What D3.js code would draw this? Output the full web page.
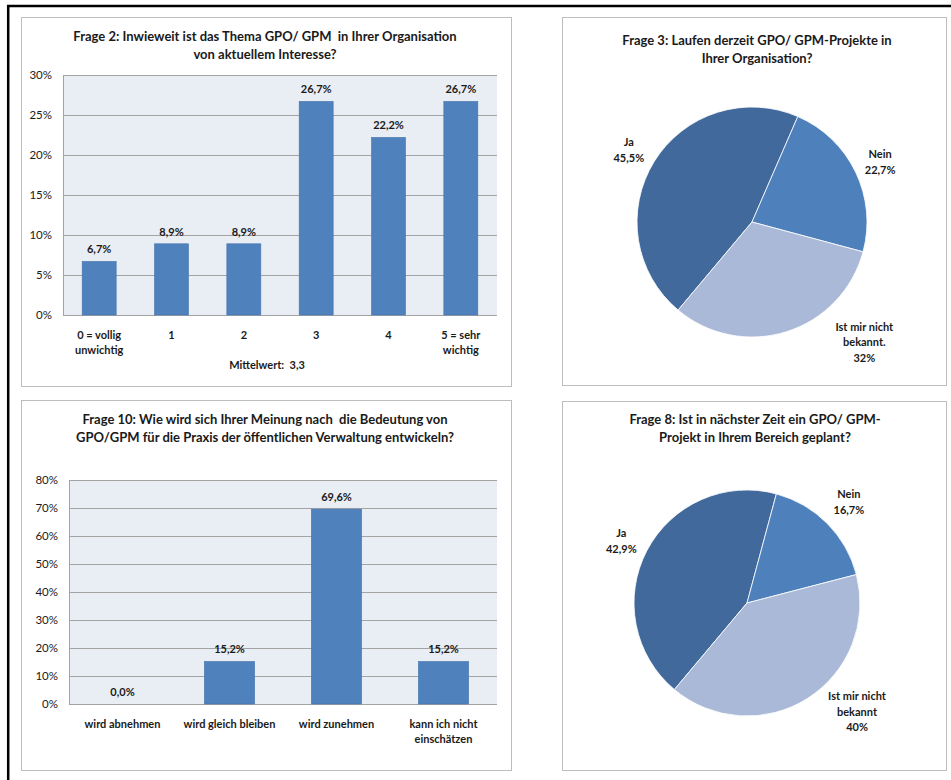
<!DOCTYPE html>
<html>
<head>
<meta charset="utf-8">
<script src="https://cdn.jsdelivr.net/npm/d3@7"></script>
<style>
  html, body { margin: 0; padding: 0; background: #fff; }
  svg { display: block; }
  text { font-family: Lato, "Open Sans", sans-serif; fill: #1a1a1a; }
</style>
</head>
<body>
<script>
// ---------------- DATA ----------------
const q2Title = ["Frage 2: Inwieweit ist das Thema GPO/ GPM  in Ihrer Organisation", "von aktuellem Interesse?"];
const q2Categories = [["0 = vollig", "unwichtig"], ["1"], ["2"], ["3"], ["4"], ["5 = sehr", "wichtig"]];
const q2Values = [6.7, 8.9, 8.9, 26.7, 22.2, 26.7];
const q2Ticks = [0, 5, 10, 15, 20, 25, 30];
const q2Note = "Mittelwert:  3,3";

const q10Title = ["Frage 10: Wie wird sich Ihrer Meinung nach  die Bedeutung von", "GPO/GPM für die Praxis der öffentlichen Verwaltung entwickeln?"];
const q10Categories = [["wird abnehmen"], ["wird gleich bleiben"], ["wird zunehmen"], ["kann ich nicht", "einschätzen"]];
const q10Values = [0.0, 15.2, 69.6, 15.2];
const q10Ticks = [0, 10, 20, 30, 40, 50, 60, 70, 80];

const q3Title = ["Frage 3: Laufen derzeit GPO/ GPM-Projekte in", "Ihrer Organisation?"];
const q3Labels = [["Ja"], ["Nein"], ["Ist mir nicht", "bekannt."]];
const q3Values = [45.5, 22.7, 32];
const q3ValueText = ["45,5%", "22,7%", "32%"];

const q8Title = ["Frage 8: Ist in nächster Zeit ein GPO/ GPM-", "Projekt in Ihrem Bereich geplant?"];
const q8Labels = [["Ja"], ["Nein"], ["Ist mir nicht", "bekannt"]];
const q8Values = [42.9, 16.7, 40];
const q8ValueText = ["42,9%", "16,7%", "40%"];

const pieColors = ["#41699c", "#4e80bc", "#aab9d7"];

// ---------------- DRAW ----------------
const W = 951, H = 780;
const svg = d3.select("body").append("svg").attr("width", W).attr("height", H);
svg.append("rect").attr("width", W).attr("height", H).attr("fill", "#fff");

// outer black frame (top + left)
svg.append("line").attr("x1", 7).attr("x2", W).attr("y1", 6).attr("y2", 6)
  .attr("stroke", "#000").attr("stroke-width", 2.5);
svg.append("line").attr("x1", 8.2).attr("x2", 8.2).attr("y1", 5).attr("y2", H)
  .attr("stroke", "#000").attr("stroke-width", 2.5);

const fmt = v => d3.format(".1f")(v).replace(".", ",") + "%";

function panel(x0, y0, x1, y1) {
  svg.append("rect").attr("x", x0 + 0.5).attr("y", y0 + 0.5)
    .attr("width", x1 - x0).attr("height", y1 - y0)
    .attr("fill", "#fff").attr("stroke", "#bdbdbd").attr("stroke-width", 1);
}

function title(lines, cx, baselines) {
  lines.forEach((l, i) => {
    svg.append("text").attr("x", cx).attr("y", baselines[i])
      .attr("text-anchor", "middle").attr("font-weight", "bold")
      .attr("font-size", 13).style("white-space", "pre").text(l);
  });
}

function barChart(o) {
  const g = svg.append("g");
  const x = d3.scaleBand().domain(d3.range(o.values.length)).range([o.left, o.right]).paddingInner(o.pad).paddingOuter(o.pad / 2);
  const y = d3.scaleLinear().domain([0, d3.max(o.ticks)]).range([o.bottom, o.top]);
  g.append("rect").attr("x", o.left).attr("y", o.top).attr("width", o.right - o.left)
    .attr("height", o.bottom - o.top).attr("fill", "#e9edf4");
  // grid
  g.selectAll(".grid").data(o.ticks).join("line")
    .attr("x1", o.left).attr("x2", o.right)
    .attr("y1", d => Math.round(y(d)) + 0.5).attr("y2", d => Math.round(y(d)) + 0.5)
    .attr("stroke", "#a3a3a3").attr("stroke-width", 1);
  // left axis line
  g.append("line").attr("x1", o.left + 0.5).attr("x2", o.left + 0.5).attr("y1", o.top).attr("y2", o.bottom)
    .attr("stroke", "#a3a3a3");
  // y axis via d3 axis
  const ya = d3.axisLeft(y).tickValues(o.ticks).tickFormat(d => d + "%").tickSize(0).tickPadding(o.left - o.tickX);
  const ag = g.append("g").attr("transform", `translate(${o.left},0)`).call(ya);
  ag.select(".domain").remove();
  ag.selectAll("text").attr("font-size", 11.5).attr("font-family", "Lato, sans-serif").attr("fill", "#2a2a2a");
  // bars
  g.selectAll(".bar").data(o.values).join("rect")
    .attr("x", (d, i) => x(i)).attr("width", x.bandwidth())
    .attr("y", d => y(d)).attr("height", d => y(0) - y(d))
    .attr("fill", "#4f81bd").attr("stroke", "#4776ad").attr("stroke-width", 0.6);
  // value labels
  g.selectAll(".val").data(o.values).join("text")
    .attr("x", (d, i) => x(i) + x.bandwidth() / 2).attr("y", d => y(d) - 8)
    .attr("text-anchor", "middle").attr("font-weight", "bold").attr("font-size", 11)
    .text(d => fmt(d));
  // category labels
  o.categories.forEach((lines, i) => {
    lines.forEach((l, j) => {
      g.append("text").attr("x", x(i) + x.bandwidth() / 2).attr("y", o.catY + j * 15)
        .attr("text-anchor", "middle").attr("font-weight", "bold").attr("font-size", 11).text(l);
    });
  });
}

function pieChart(o) {
  const g = svg.append("g").attr("transform", `translate(${o.cx},${o.cy})`);
  const start = -140 * Math.PI / 180;
  const pie = d3.pie().sort(null).startAngle(start).endAngle(start + 2 * Math.PI);
  const arcs = pie(o.values);
  const arc = d3.arc().innerRadius(0).outerRadius(o.r);
  g.selectAll("path").data(arcs).join("path")
    .attr("d", arc).attr("fill", (d, i) => pieColors[i])
    .attr("stroke", "#fff").attr("stroke-width", 0.8);
  arcs.forEach((a, i) => {
    const mid = (a.startAngle + a.endAngle) / 2 + o.labelShift[i] * Math.PI / 180;
    const rr = o.r * o.labelK[i];
    const lx = Math.sin(mid) * rr, ly = -Math.cos(mid) * rr;
    const lines = o.labels[i].concat([o.valueText[i]]);
    const lh = 15.5;
    const y0 = ly - (lines.length - 1) * lh / 2 + 4;
    lines.forEach((l, j) => {
      g.append("text").attr("x", lx).attr("y", y0 + j * lh)
        .attr("text-anchor", "middle").attr("font-weight", "bold").attr("font-size", 11).text(l);
    });
  });
}

// Panel 1: Frage 2
panel(21, 17, 511, 386);
title(q2Title, 265, [41, 59]);
barChart({ values: q2Values, categories: q2Categories, ticks: q2Ticks,
  left: 63, right: 497, top: 75, bottom: 315, pad: 0.53, tickX: 52, catY: 339 });
svg.append("text").attr("x", 267).attr("y", 369).attr("text-anchor", "middle")
  .attr("font-weight", "bold").attr("font-size", 11).style("white-space", "pre").text(q2Note);

// Panel 2: Frage 3
panel(562, 17, 946, 385);
title(q3Title, 757, [45, 63]);
pieChart({ cx: 752, cy: 222, r: 115, values: q3Values, labels: q3Labels, valueText: q3ValueText,
  labelShift: [-1.5, 0.7, -25.6], labelK: [1.24, 1.23, 1.43] });

// Panel 3: Frage 10
panel(21, 400, 511, 770);
title(q10Title, 265, [424, 442]);
barChart({ values: q10Values, categories: q10Categories, ticks: q10Ticks,
  left: 69, right: 497, top: 480, bottom: 704, pad: 0.53, tickX: 58, catY: 728 });

// Panel 4: Frage 8
panel(562, 401, 946, 770);
title(q8Title, 755, [424, 442]);
pieChart({ cx: 747, cy: 603, r: 113, values: q8Values, labels: q8Labels, valueText: q8ValueText,
  labelShift: [-1.3, 0, -13], labelK: [1.24, 1.27, 1.37] });
</script>
</body>
</html>
